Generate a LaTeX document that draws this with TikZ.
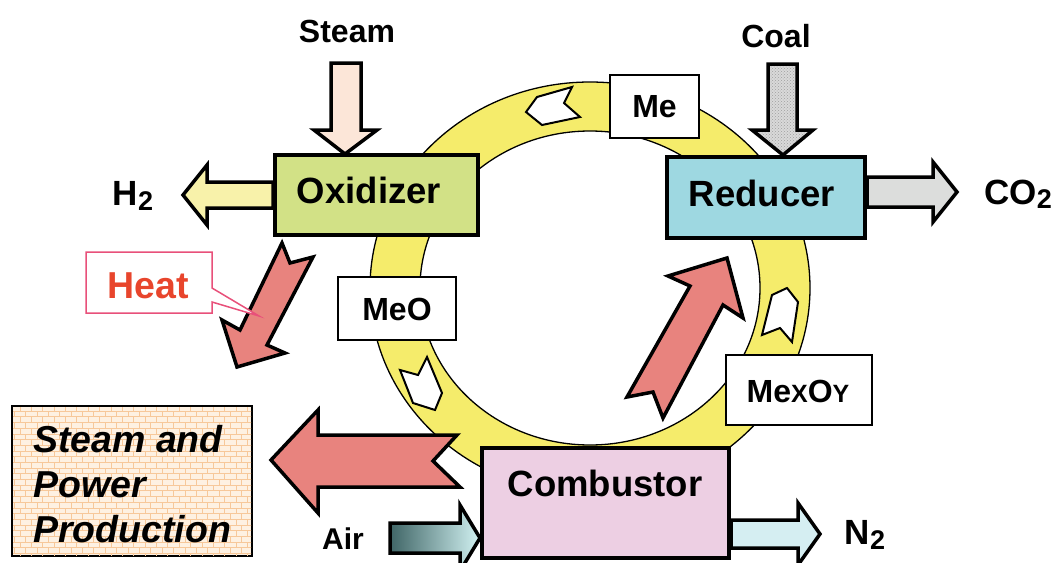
\documentclass[tikz,border=0pt]{standalone}
\usepackage{fontspec}
\setmainfont{Liberation Sans}
\usetikzlibrary{patterns}
\definecolor{ringy}{HTML}{F5EC6B}
\definecolor{oxg}{HTML}{D2E186}
\definecolor{redb}{HTML}{9ED8E1}
\definecolor{comb}{HTML}{EDCFE3}
\definecolor{salmon}{HTML}{E8837E}
\definecolor{heatred}{HTML}{E8452C}
\definecolor{heatbd}{HTML}{E8507A}
\definecolor{h2y}{HTML}{F8F2AA}
\definecolor{co2g}{HTML}{DCDDDC}
\definecolor{n2c}{HTML}{D5EEF2}
\definecolor{airdark}{HTML}{3F6566}
\definecolor{airlight}{HTML}{D2F2F2}
\definecolor{steamf}{HTML}{FCE6D8}
\definecolor{spbg}{HTML}{FEF1E2}
\definecolor{brickc}{HTML}{F7C89A}
\newcommand{\subtwo}[1]{\raisebox{-0.12em}{\fontsize{27}{27}\selectfont #1}}
\begin{document}
\begin{tikzpicture}[x=1pt,y=-1pt,
  txt/.style={font=\fontsize{32}{32}\selectfont\bfseries, inner sep=0pt},
  bigtxt/.style={font=\fontsize{36.5}{36.5}\selectfont\bfseries, inner sep=0pt},
  reactor/.style={draw, line width=4pt, inner sep=0pt},
  tag/.style={draw, fill=white, line width=1.5pt, inner sep=0pt},
  blockarrow/.style={draw, line width=3.5pt, line join=miter},
  chev/.style={draw, fill=white, line width=2pt, line join=miter}]
\useasboundingbox (0,0) rectangle (1057,562);

% ring
\fill[ringy, even odd rule] (590,288) ellipse [x radius=220, y radius=206]
                            (590,288) ellipse [x radius=170, y radius=157];
\draw[line width=1.3pt] (590,288) ellipse [x radius=220, y radius=206];
\draw[line width=1.3pt] (590,288) ellipse [x radius=170, y radius=157];

% ring chevrons
\draw[chev] (526,112) -- (537,97) -- (572,87) -- (564,103) -- (580,117) -- (542,125) -- cycle;
\draw[chev] (400,370) -- (418,375) -- (427,357) -- (442,393) -- (435,410) -- (413,403) -- cycle;
\draw[chev] (787,288) -- (798,302) -- (792,342) -- (780,328) -- (762,335) -- (772,295) -- cycle;

% reactors
\node[reactor, fill=oxg, minimum width=203pt, minimum height=80pt] (ox) at (376.5,195) {};
\node[reactor, fill=redb, minimum width=198pt, minimum height=81pt] (rd) at (766,197.5) {};
\node[reactor, fill=comb, minimum width=247pt, minimum height=110pt] (cb) at (605.5,503) {};
\node[bigtxt] (oxt) at (369,190) {Oxidizer};
\node[bigtxt] (rdt) at (762,193) {Reducer};
\node[bigtxt] (cbt) at (605,483) {Combustor};

% steam and power box
\node[draw, line width=1.2pt, fill=spbg, minimum width=240pt, minimum height=150pt, inner sep=0pt] (sp) at (132,481) {};
\fill[pattern=bricks, pattern color=brickc] (13,407) rectangle (251,555);
\node[font=\fontsize{37.5}{45}\selectfont\bfseries\itshape, align=left, anchor=north west, inner sep=0pt] (spt) at (33,425) {Steam and\\Power\\Production};

% tags
\node[tag, minimum width=89pt, minimum height=63pt] (me) at (654.5,106.5) {};
\node[txt] (met) at (654.5,107) {Me};
\node[tag, minimum width=118pt, minimum height=63pt] (meo) at (397,308.5) {};
\node[txt] (meot) at (397,309) {MeO};
\node[tag, minimum width=146pt, minimum height=70pt] (mexoy) at (799,390) {};
\node[txt] (mexoyt) at (798,391) {Me\fontsize{25}{25}\selectfont X\fontsize{32}{32}\selectfont O\fontsize{25}{25}\selectfont Y};

% inputs / outputs
\node[txt] (steam) at (347,31) {Steam};
\node[txt] (coal) at (776,36) {Coal};
\node[bigtxt, font=\fontsize{35}{35}\selectfont\bfseries] (h2) at (133,196) {H\subtwo{2}};
\node[bigtxt, font=\fontsize{35}{35}\selectfont\bfseries] (co2) at (1018,194) {CO\subtwo{2}};
\node[bigtxt, font=\fontsize{35}{35}\selectfont\bfseries] (n2) at (865,535) {N\subtwo{2}};
\node[font=\fontsize{30}{30}\selectfont\bfseries, inner sep=0pt] (air) at (343,539) {Air};

% steam arrow
\draw[blockarrow, fill=steamf] (331,63) -- (361,63) -- (361,130) -- (377,130) -- (345,154) -- (314,130) -- (331,130) -- cycle;
% coal arrow
\fill[gray!30] (768,64) -- (797,64) -- (797,130) -- (813,130) -- (783,155) -- (752,130) -- (768,130) -- cycle;
\draw[blockarrow, pattern=crosshatch dots, pattern color=gray!75] (768,64) -- (797,64) -- (797,130) -- (813,130) -- (783,155) -- (752,130) -- (768,130) -- cycle;
% H2 arrow
\draw[blockarrow, fill=h2y] (ox.west |- 0,182) -- (207,182) -- (207,165) -- (183,195) -- (207,225) -- (207,208) -- (ox.west |- 0,208) -- cycle;
% CO2 arrow
\draw[blockarrow, fill=co2g] (rd.east |- 0,177) -- (933,177) -- (933,162) -- (957,192) -- (933,222) -- (933,207) -- (rd.east |- 0,207) -- cycle;
% Air arrow
\draw[blockarrow, left color=airdark, right color=airlight] (390,523) -- (460,523) -- (460,505) -- (cb.west |- 0,538) -- (460,571) -- (460,553) -- (390,553) -- cycle;
% N2 arrow
\draw[blockarrow, fill=n2c] (cb.east |- 0,520) -- (798,520) -- (798,503) -- (820,534) -- (798,565) -- (798,548) -- (cb.east |- 0,548) -- cycle;
% big heat arrow to steam & power
\draw[blockarrow, fill=salmon] (457,435) -- (318,435) -- (318,410) -- (271,460) -- (318,513) -- (318,487) -- (460,487) -- (433,461) -- cycle;
% heat arrow from oxidizer
\draw[blockarrow, fill=salmon] (282,243) -- (290,263) -- (313,257) -- (267,345) -- (285,353) -- (237,367) -- (222,320) -- (240,330) -- cycle;
% heat arrow combustor -> reducer
\draw[blockarrow, fill=salmon] (727,258) -- (743,318) -- (723,305) -- (663,418) -- (653,392) -- (627,397) -- (690,286) -- (668,276) -- cycle;

% heat callout
\draw[heatbd, line width=1.5pt, fill=white, line join=miter] (86,252) -- (212,252) -- (212,288) -- (259,316) -- (212,302) -- (212,313) -- (86,313) -- cycle;
\node[font=\fontsize{37.5}{37.5}\selectfont\bfseries, text=heatred, inner sep=0pt] (heat) at (148,286) {Heat};
\end{tikzpicture}
\end{document}
